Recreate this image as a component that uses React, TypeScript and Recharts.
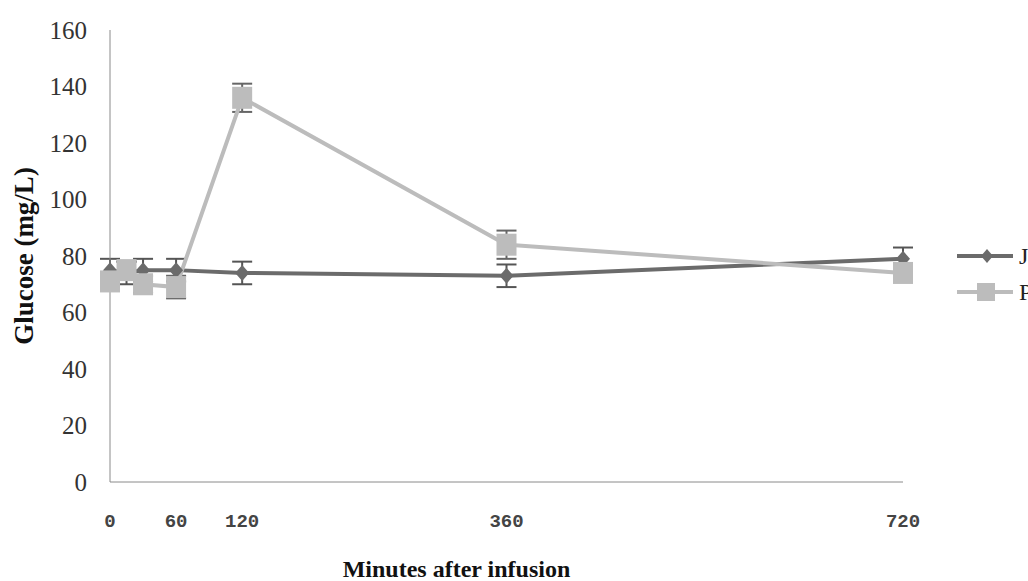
import { LineChart, Line, XAxis, YAxis, ErrorBar, Legend, Label } from "recharts";

const minutes = [0, 15, 30, 60, 120, 360, 720];
const jGlucose = [75, 74, 75, 75, 74, 73, 79];
const jError = [4, 4, 4, 4, 4, 4, 4];
const pGlucose = [71, 75, 70, 69, 136, 84, 74];
const pError = [3, 3, 3, 4, 5, 5, 3];
const xTicks = [0, 60, 120, 360, 720];
const yTicks = [0, 20, 40, 60, 80, 100, 120, 140, 160];

const data = minutes.map((m, i) => ({
  minute: m,
  j: jGlucose[i],
  jErr: jError[i],
  p: pGlucose[i],
  pErr: pError[i],
}));

const DARK = "#6b6b6b";
const LIGHT = "#bcbcbc";
const SERIF = "'Liberation Serif', 'Times New Roman', serif";

const Diamond = (props: any) => {
  const { cx, cy } = props;
  if (cx == null || cy == null) return null;
  return (
    <polygon
      points={`${cx},${cy - 8} ${cx + 7},${cy} ${cx},${cy + 8} ${cx - 7},${cy}`}
      fill={DARK}
    />
  );
};

const Square = (props: any) => {
  const { cx, cy } = props;
  if (cx == null || cy == null) return null;
  return <rect x={cx - 10} y={cy - 11} width={20} height={22} fill={LIGHT} />;
};

const LegendContent = () => (
  <div style={{ fontFamily: SERIF, fontSize: 24, color: "#222" }}>
    <div style={{ display: "flex", alignItems: "center", height: 36 }}>
      <svg width={62} height={20}>
        <line x1={0} y1={10} x2={56} y2={10} stroke={DARK} strokeWidth={4} />
        <polygon points="30,3 36,10 30,17 24,10" fill={DARK} />
      </svg>
      <span>J</span>
    </div>
    <div style={{ display: "flex", alignItems: "center", height: 36 }}>
      <svg width={62} height={24}>
        <line x1={0} y1={12} x2={56} y2={12} stroke={LIGHT} strokeWidth={4} />
        <rect x={20} y={3} width={18} height={18} fill={LIGHT} />
      </svg>
      <span>P</span>
    </div>
  </div>
);

const YLabel = (props: any) => {
  const { viewBox } = props;
  const cy = viewBox.y + viewBox.height / 2;
  return (
    <text
      x={24}
      y={cy}
      transform={`rotate(-90, 24, ${cy})`}
      textAnchor="middle"
      dominantBaseline="central"
      fontFamily={SERIF}
      fontWeight="bold"
      fontSize={27}
      fill="#111"
    >
      Glucose (mg/L)
    </text>
  );
};

export default function App() {
  return (
    <div
      style={{
        position: "absolute",
        left: 0,
        top: 0,
        width: 1028,
        height: 581,
        overflow: "hidden",
        background: "#fff",
      }}
    >
      <LineChart
        width={1028}
        height={581}
        data={data}
        margin={{ top: 30, right: 5, left: 0, bottom: 0 }}
      >
        <XAxis
          dataKey="minute"
          type="number"
          domain={[0, 720]}
          ticks={xTicks}
          height={99}
          tickLine={false}
          tickMargin={26}
          axisLine={{ stroke: "#8a8a8a" }}
          tick={{
            fontSize: 19,
            fontFamily: "'Liberation Mono', 'Courier New', monospace",
            fontWeight: "bold",
            fill: "#444",
          }}
        >
          <Label
            value="Minutes after infusion"
            position="insideBottom"
            offset={4}
            dx={-50}
            fontFamily={SERIF}
            fontWeight="bold"
            fontSize={24}
            fill="#111"
          />
        </XAxis>
        <YAxis
          domain={[0, 160]}
          ticks={yTicks}
          width={110}
          tickLine={false}
          tickMargin={17}
          axisLine={{ stroke: "#8a8a8a" }}
          tick={{ fontSize: 25, fontFamily: SERIF, fill: "#333" }}
        >
          <Label content={<YLabel />} />
        </YAxis>
        <Legend
          layout="horizontal"
          verticalAlign="middle"
          align="right"
          content={<LegendContent />}
          wrapperStyle={{ left: 957, top: 238, width: 120, right: "auto" }}
        />
        <Line
          dataKey="j"
          stroke={DARK}
          strokeWidth={4}
          dot={<Diamond />}
          activeDot={false}
          isAnimationActive={false}
        >
          <ErrorBar dataKey="jErr" direction="y" width={10} strokeWidth={2} stroke="#555" />
        </Line>
        <Line
          dataKey="p"
          stroke={LIGHT}
          strokeWidth={4}
          dot={<Square />}
          activeDot={false}
          isAnimationActive={false}
        >
          <ErrorBar dataKey="pErr" direction="y" width={10} strokeWidth={2} stroke="#666" />
        </Line>
      </LineChart>
    </div>
  );
}
